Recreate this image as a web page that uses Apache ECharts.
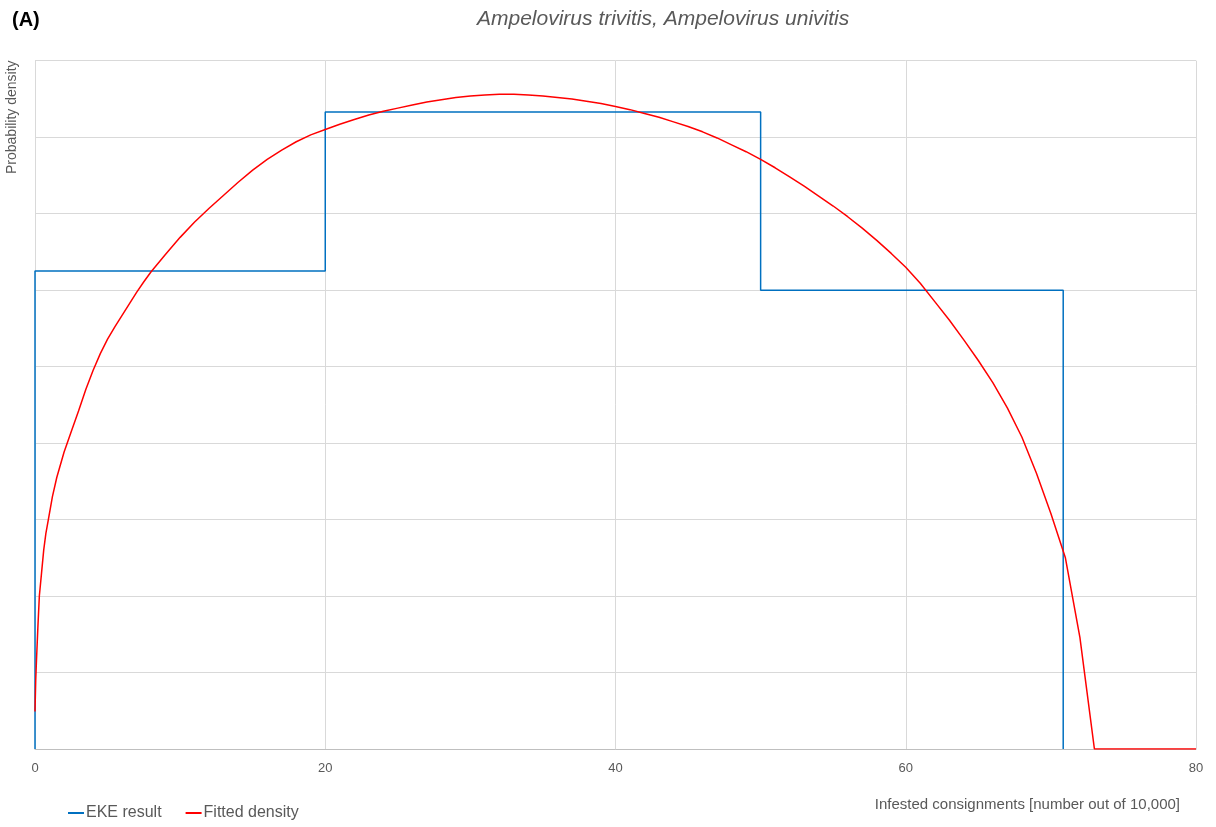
<!DOCTYPE html>
<html>
<head>
<meta charset="utf-8">
<script src="https://cdn.jsdelivr.net/npm/echarts@6/dist/echarts.min.js"></script>
<style>html,body{margin:0;padding:0;background:#fff;}#c{width:1216px;height:827px;}</style>
</head>
<body>
<div id="c"></div>
<script>
// EKE result (step histogram outline)
const ekeX = [0, 0, 20, 20, 50, 50, 70.85, 70.85];
const ekeY = [0, 6.25, 6.25, 8.33, 8.33, 6.0, 6.0, 0];
// Fitted density
const fitX = [0, 0.05, 0.1, 0.2, 0.3, 0.45, 0.6, 0.75, 0.92, 1.2, 1.5, 2, 2.5, 3, 3.5, 4, 4.5, 5, 5.5, 6, 6.5, 7, 7.5, 8,
  9, 10, 11, 12, 13, 14, 15, 16, 17, 18, 19, 20, 21, 22, 23, 24, 25, 26, 27, 28, 29, 30,
  31, 32, 33, 34, 35, 36, 37, 38, 39, 40, 41, 42, 43, 44, 45, 46, 47, 48, 49, 50,
  51, 52, 53, 54, 55, 56, 57, 58, 59, 60, 61, 62, 63, 64, 65, 66, 67, 68, 69, 70, 71, 72, 73, 80];
const fitY = [0.49, 0.9, 1.15, 1.6, 2.0, 2.3, 2.6, 2.82, 3.0, 3.3, 3.55, 3.88, 4.15, 4.42, 4.7, 4.95, 5.17, 5.36, 5.52, 5.67, 5.82, 5.97, 6.11, 6.24,
  6.47, 6.69, 6.89, 7.07, 7.24, 7.41, 7.57, 7.71, 7.83, 7.94, 8.03, 8.1, 8.17, 8.23, 8.29, 8.34, 8.38, 8.42, 8.46, 8.49, 8.52, 8.54,
  8.55, 8.56, 8.56, 8.55, 8.54, 8.52, 8.5, 8.47, 8.44, 8.4, 8.36, 8.31, 8.26, 8.2, 8.14, 8.07, 7.99, 7.9, 7.81, 7.71,
  7.6, 7.48, 7.36, 7.23, 7.1, 6.96, 6.81, 6.65, 6.48, 6.3, 6.09, 5.85, 5.61, 5.35, 5.08, 4.79, 4.46, 4.08, 3.61, 3.08, 2.5, 1.46, 0, 0];
const xTicks = [0, 20, 40, 60, 80];

const chart = echarts.init(document.getElementById('c'));
const font = 'Liberation Sans';
chart.setOption({
  animation: false,
  backgroundColor: '#ffffff',
  textStyle: { fontFamily: font },
  title: [
    { text: '(A)', left: 7, top: 5, textStyle: { fontSize: 20, fontWeight: 'bold', color: '#000', fontFamily: font } },
    { text: 'Ampelovirus trivitis, Ampelovirus univitis', left: 472, top: 4, textStyle: { fontSize: 21, fontStyle: 'italic', fontWeight: 'normal', color: '#595959', fontFamily: font } }
  ],
  legend: {
    left: 68, top: 805, padding: 0, icon: 'rect', itemWidth: 16, itemHeight: 2, itemGap: 24,
    textStyle: { fontSize: 16, color: '#595959', fontFamily: font, padding: [0, 0, 0, -3] },
    data: ['EKE result', 'Fitted density']
  },
  grid: { left: 35, right: 20, top: 60.7, bottom: 78, containLabel: false },
  xAxis: {
    type: 'value', min: xTicks[0], max: xTicks[xTicks.length - 1], interval: 20,
    axisLine: { lineStyle: { color: '#bfbfbf', width: 1 } },
    axisTick: { show: false },
    axisLabel: { color: '#595959', fontSize: 13, margin: 13, fontFamily: font },
    splitLine: { show: true, lineStyle: { color: '#d9d9d9', width: 1 } }
  },
  yAxis: {
    type: 'value', min: 0, max: 9, interval: 1,
    axisLine: { show: false }, axisTick: { show: false }, axisLabel: { show: false },
    splitLine: { show: true, lineStyle: { color: '#d9d9d9', width: 1 } }
  },
  graphic: [
    { type: 'text', x: 5, y: 174, rotation: Math.PI / 2,
      style: { text: 'Probability density', fill: '#595959', font: '14px "Liberation Sans"' } },
    { type: 'text', right: 36, top: 797,
      style: { text: 'Infested consignments [number out of 10,000]', fill: '#595959', font: '15px "Liberation Sans"' } }
  ],
  series: [
    { name: 'EKE result', type: 'line', showSymbol: false, symbol: 'none',
      lineStyle: { color: '#0070C0', width: 1.5 }, itemStyle: { color: '#0070C0' },
      data: ekeX.map((x, i) => [x, ekeY[i]]) },
    { name: 'Fitted density', type: 'line', showSymbol: false, symbol: 'none', smooth: false,
      lineStyle: { color: '#FF0000', width: 1.5 }, itemStyle: { color: '#FF0000' },
      data: fitX.map((x, i) => [x, fitY[i]]) }
  ]
});
</script>
</body>
</html>
